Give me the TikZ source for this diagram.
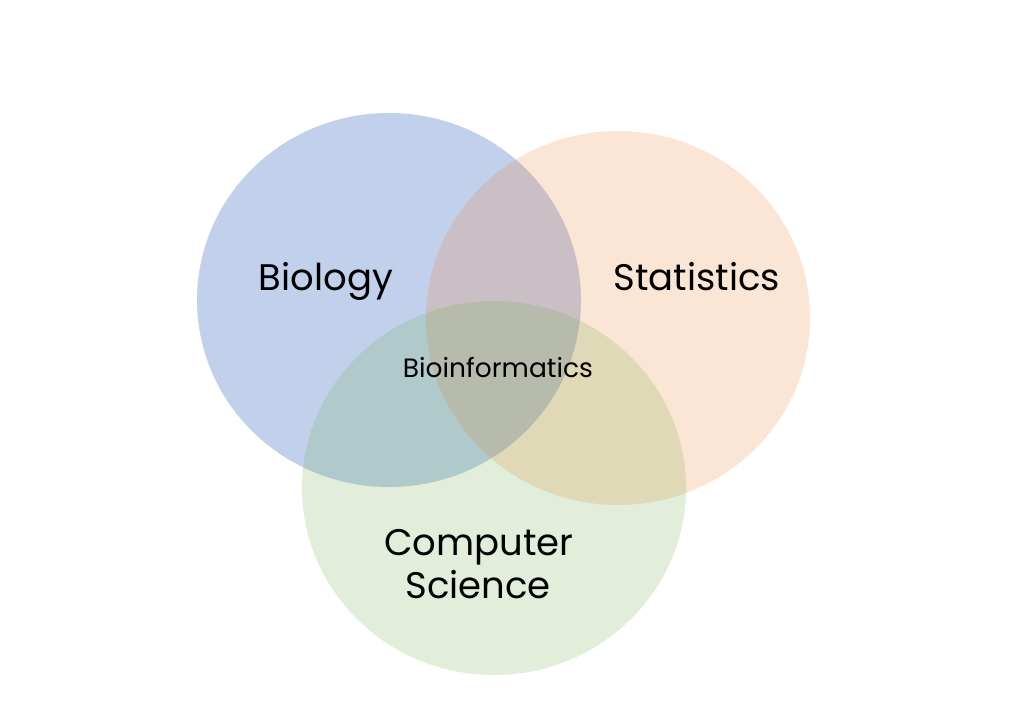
\documentclass[tikz,border=0pt]{standalone}
\usepackage{fontspec}
\setmainfont{Poppins}
\definecolor{cblue}{HTML}{4472C4}
\definecolor{corange}{HTML}{ED7D31}
\definecolor{cgreen}{HTML}{70AD47}
\begin{document}
\begin{tikzpicture}[x=1pt,y=-1pt,
  setcirc/.style={draw=none,fill opacity=#1},
  biglabel/.style={font=\fontsize{37}{44}\selectfont,anchor=base,inner sep=0pt,text=black},
  smalllabel/.style={font=\fontsize{26.5}{30}\selectfont,anchor=base,inner sep=0pt,text=black}]
\useasboundingbox (0,0) rectangle (1023,720);
\fill[white] (0,0) rectangle (1023,720);
\fill[cblue,setcirc=0.33] (389,300) ellipse [x radius=192, y radius=187];
\fill[corange,setcirc=0.2] (618,318) ellipse [x radius=192, y radius=187];
\fill[cgreen,setcirc=0.2] (494,488) ellipse [x radius=192, y radius=187];
\node[biglabel] (bio) at (326,290) {Biology};
\node[biglabel] (stat) at (697,290) {Statistics};
\node[smalllabel] (bioinf) at (498,377) {Bioinformatics};
\node[biglabel] (cs1) at (479,555) {Computer};
\node[biglabel] (cs2) at (478,598) {Science};
\end{tikzpicture}
\end{document}
